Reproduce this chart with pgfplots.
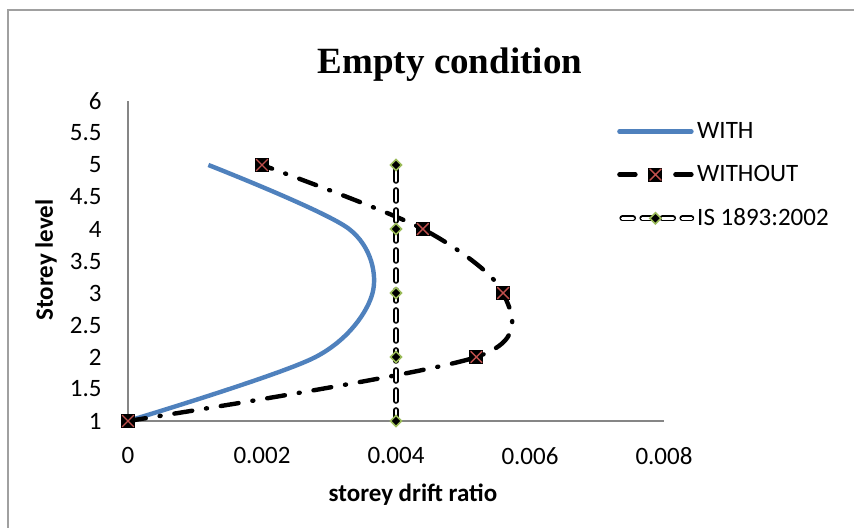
\documentclass[border=0pt]{standalone}
\usepackage{fontspec}
\setmainfont{Carlito}
\newfontfamily\titlefont{Liberation Serif}
\usepackage{pgfplots}
\pgfplotsset{compat=1.18}
\definecolor{xblue}{HTML}{4F81BD}
\definecolor{xred}{HTML}{C0504D}
\definecolor{xgreen}{HTML}{9BBB59}
\definecolor{axgray}{HTML}{868686}
\definecolor{framegray}{HTML}{A0A0A0}
\pgfdeclareplotmark{sqx}{%
  \pgfsetdash{}{0pt}%
  \pgfpathrectangle{\pgfqpoint{-\pgfplotmarksize}{-\pgfplotmarksize}}{\pgfqpoint{2\pgfplotmarksize}{2\pgfplotmarksize}}%
  \pgfsetfillcolor{black}\pgfusepathqfill
  \pgfsetstrokecolor{xred}\pgfsetlinewidth{0.7pt}%
  \pgfpathmoveto{\pgfqpoint{-0.8\pgfplotmarksize}{-0.8\pgfplotmarksize}}%
  \pgfpathlineto{\pgfqpoint{0.8\pgfplotmarksize}{0.8\pgfplotmarksize}}%
  \pgfpathmoveto{\pgfqpoint{-0.8\pgfplotmarksize}{0.8\pgfplotmarksize}}%
  \pgfpathlineto{\pgfqpoint{0.8\pgfplotmarksize}{-0.8\pgfplotmarksize}}%
  \pgfusepathqstroke}
\pgfdeclareplotmark{gdiam}{%
  \pgfsetdash{}{0pt}%
  \pgfsetstrokecolor{xgreen}\pgfsetfillcolor{black}\pgfsetlinewidth{0.8pt}%
  \pgfpathmoveto{\pgfqpoint{0pt}{\pgfplotmarksize}}%
  \pgfpathlineto{\pgfqpoint{\pgfplotmarksize}{0pt}}%
  \pgfpathlineto{\pgfqpoint{0pt}{-\pgfplotmarksize}}%
  \pgfpathlineto{\pgfqpoint{-\pgfplotmarksize}{0pt}}%
  \pgfpathclose
  \pgfusepathqfillstroke}
\begin{document}
\begin{tikzpicture}
\useasboundingbox (0,0) rectangle (427pt,264pt);
\fill[white] (0,0) rectangle (427pt,264pt);
\draw[framegray, line width=0.8pt] (4pt,0pt) -- (4pt,259pt) -- (427pt,259pt);
\begin{axis}[
  at={(64pt,53.5pt)}, anchor=south west,
  scale only axis, width=268pt, height=160pt,
  xmin=0, xmax=0.008, ymin=1, ymax=6,
  xtick={0,0.002,0.004,0.006,0.008},
  ytick={1,1.5,2,2.5,3,3.5,4,4.5,5,5.5,6},
  scaled x ticks=false,
  xticklabel style={/pgf/number format/fixed, /pgf/number format/precision=3},
  /pgf/number format/assume math mode=true,
  tick label style={font=\fontsize{12.5}{15}\selectfont, inner sep=0pt},
  xticklabel style={anchor=north, yshift=-13pt},
  yticklabel style={anchor=east, xshift=-13pt},
  major tick length=0pt,
  axis lines*=left,
  axis line style={draw=axgray, line width=0.8pt, -},
  clip=false,
  legend style={at={(rel axis cs:0.912,0.945)}, anchor=north west, draw=none, fill=none,
    font=\fontsize{12.5}{15}\selectfont, row sep=9pt, inner sep=0pt,
    nodes={inner sep=1.5pt}},
  legend cell align=left,
]
\addplot[xblue, line width=2.2pt, smooth, no marks,
  legend image code/.code={\draw[xblue, line width=2.2pt, line cap=round] (0pt,0pt) -- (36pt,0pt);}]
  coordinates {(0,1) (0.0028,2) (0.00365,3) (0.0033,4) (0.0012,5)};
\addlegendentry{WITH}
\addplot[black, line width=2.2pt, line cap=round, dash pattern=on 9pt off 7pt on 0.5pt off 7pt, smooth,
  mark=sqx, mark size=3.5pt, mark options={solid},
  legend image code/.code={\draw[black, line width=2.2pt, line cap=round] (0pt,0pt) -- (8pt,0pt) (28pt,0pt) -- (36pt,0pt);
     \draw[mark=sqx, mark size=3.5pt] plot coordinates {(18pt,0pt)};}]
  coordinates {(0,1) (0.0052,2) (0.0056,3) (0.0044,4) (0.002,5)};
\addlegendentry{WITHOUT}
\addplot[black, line width=2.8pt, line cap=round, dash pattern=on 5.5pt off 4.5pt, no marks, forget plot]
  coordinates {(0.004,1) (0.004,2) (0.004,3) (0.004,4) (0.004,5)};
\addplot[white, line width=1.4pt, line cap=round, dash pattern=on 5.5pt off 4.5pt,
  mark=gdiam, mark size=2.8pt, mark options={solid},
  legend image code/.code={
    \draw[black, line width=2.8pt, line cap=round, dash pattern=on 5.5pt off 4.5pt] (1.4pt,0pt) -- (36pt,0pt);
    \draw[white, line width=1.4pt, line cap=round, dash pattern=on 5.5pt off 4.5pt] (1.4pt,0pt) -- (36pt,0pt);
    \draw[mark=gdiam, mark size=2.8pt] plot coordinates {(18pt,0pt)};}]
  coordinates {(0.004,1) (0.004,2) (0.004,3) (0.004,4) (0.004,5)};
\addlegendentry{IS 1893:2002}
\end{axis}
\node[font=\titlefont\bfseries\fontsize{18.5}{22}\selectfont] at (225pt,231.5pt) {Empty condition};
\node[font=\bfseries\fontsize{12.5}{15}\selectfont] at (206.5pt,16.5pt) {storey drift ratio};
\node[font=\bfseries\fontsize{12.5}{15}\selectfont, rotate=90] at (23pt,134pt) {Storey level};
\end{tikzpicture}
\end{document}
